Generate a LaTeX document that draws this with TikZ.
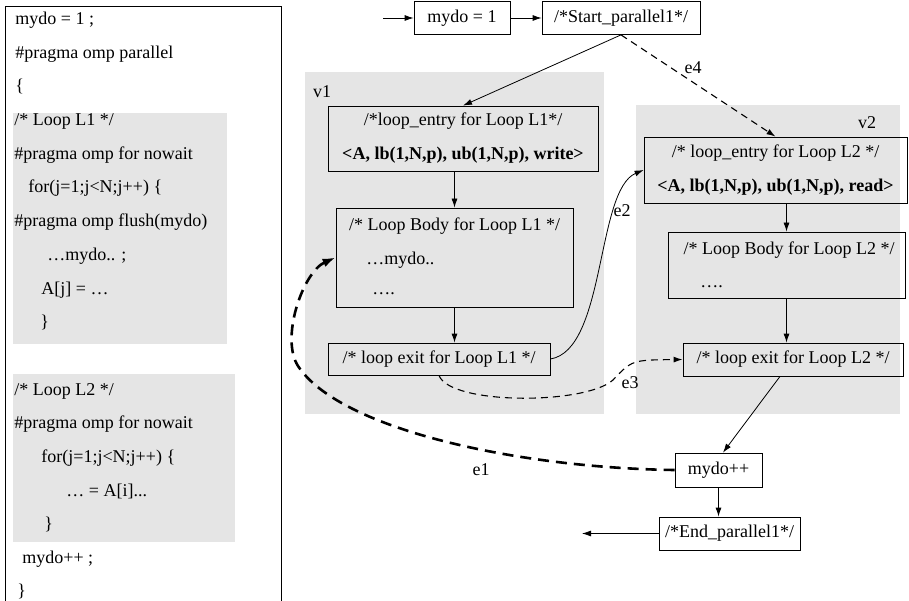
\documentclass[tikz,border=0pt]{standalone}
\usepackage{fontspec}
\setmainfont{Liberation Serif}
\usetikzlibrary{arrows.meta}

\begin{document}
\begin{tikzpicture}[x=1pt, y=-1pt, line width=0.8pt,
    font=\fontsize{18}{22}\selectfont,
    >={Latex[length=9pt,width=6pt]},
    box/.style={draw, rectangle, inner sep=0pt},
    shade/.style={fill=black!10},
    code/.style={anchor=mid west, inner sep=0pt},
    twoline/.style={align=center, font=\fontsize{18}{34}\selectfont},
    edgelbl/.style={inner sep=0pt},
    ldash/.style={line width=1.1pt, dash pattern=on 7pt off 5pt},
    hdash/.style={line width=2.6pt, dash pattern=on 11pt off 7pt,
        >={Latex[length=13pt,width=9pt]}}]
    \useasboundingbox (0,0) rectangle (909,601);

    % Серые области
    \fill[shade] (13,113) rectangle (227,344);
    \fill[shade] (13,374) rectangle (235,542);
    \fill[shade] (305,72) rectangle (604,414);
    \fill[shade] (636,105) rectangle (900,414);

    % Исходный код
    \draw (5,601) -- (5,6) -- (281,6) -- (281,601);
    \foreach \y/\x/\txt in {
        22/15/{mydo = 1 ;}, 56/15/{\#pragma omp parallel}, 89/15/{\{},
        123/14/{/* Loop L1 */}, 157/14/{\#pragma omp for nowait},
        190/28/{for(j=1;j<N;j++) \{}, 224/14/{\#pragma omp flush(mydo)},
        258/47/{…mydo.. ;}, 292/41/{A[j] = …}, 325/40/{\}},
        393/14/{/* Loop L2 */}, 426/14/{\#pragma omp for nowait},
        460/41/{for(j=1;j<N;j++) \{}, 494/66/{… = A[i].{}.{}.},
        527/44/{\}}, 561/22/{mydo++ ;}, 594/17/{\}}}
    {
        \node[code] (line\y) at (\x,\y) {\txt};
    }

    % Начало
    \coordinate (in) at (383,18);
    \node[box, minimum width=96, minimum height=33] (init) at (462,18) {mydo = 1};
    \node[box, minimum width=158, minimum height=33] (start) at (621,18) {/*Start\_parallel1*/};
    \draw[->] (in) -- (init);
    \draw[->] (init) -- (start);

    % Цикл L1
    \node (v1) at (322,92) {v1};
    \node[box, twoline, minimum width=270, minimum height=65] (entryA) at (463,138.5)
        {/*loop\_entry for Loop L1*/\\ \textbf{<A, lb(1,N,p), ub(1,N,p), write>}};
    \node[box, minimum width=237, minimum height=99] (bodyA) at (454.5,257.5) {};
    \node (bodyAt) at (454.5,226) {/* Loop Body for Loop L1 */};
    \node[code] (bodyAa) at (366,262) {…mydo..};
    \node[code] (bodyAb) at (372,292) {….};
    \node[box, minimum width=222, minimum height=32] (exitA) at (439,359) {/* loop exit for Loop L1 */};
    \draw[->] (bodyA.north |- entryA.south) -- (bodyA.north);
    \draw[->] (bodyA.south) -- (bodyA.south |- exitA.north);

    % Цикл L2
    \node (v2) at (867,123) {v2};
    \node[box, twoline, minimum width=263, minimum height=66] (entryB) at (775.5,170)
        {/* loop\_entry for Loop L2 */\\ \textbf{<A, lb(1,N,p), ub(1,N,p), read>}};
    \node[box, minimum width=237, minimum height=66] (bodyB) at (786.5,265) {};
    \node (bodyBt) at (789,250) {/* Loop Body for Loop L2 */};
    \node[code] (bodyBa) at (700,285) {….};
    \node[box, minimum width=220, minimum height=33] (exitB) at (793,359.5) {/* loop exit for Loop L2 */};
    \draw[->] (bodyB.north |- entryB.south) -- (bodyB.north);
    \draw[->] (bodyB.south) -- (bodyB.south |- exitB.north);

    % Конец
    \node[box, minimum width=87, minimum height=34] (incr) at (718.5,470) {mydo++};
    \node[box, minimum width=141, minimum height=33] (endp) at (729.5,533.5) {/*End\_parallel1*/};
    \coordinate (out) at (582,533.5);
    \draw[->] ([xshift=-13pt]exitB.south) -- ([xshift=4.5pt]incr.north);
    \draw[->] (incr.south) -- (incr.south |- endp.north);
    \draw[->] (endp) -- (out);

    % Рёбра
    \draw[->] (start.south) -- (entryA.north);
    \draw[->, ldash] (start.south) -- (entryB.north);
    \node[edgelbl] (e4) at (693,68) {e4};
    \draw[->] (exitA.east) .. controls (606,350) and (596,190) .. (entryB.west);
    \node[edgelbl] (e2) at (622,211) {e2};
    \draw[->, ldash] (exitA.south) .. controls (450,405) and (585,405) .. (613,380)
        .. controls (632,360) .. (exitB.west);
    \node[edgelbl] (e3) at (630,383) {e3};
    \draw[->, hdash] (incr.west) .. controls (520,468) and (340,430) .. (298,366)
        .. controls (280,338) and (303,272) .. (bodyA.west);
    \node[edgelbl] (e1) at (481,470) {e1};
\end{tikzpicture}
\end{document}
